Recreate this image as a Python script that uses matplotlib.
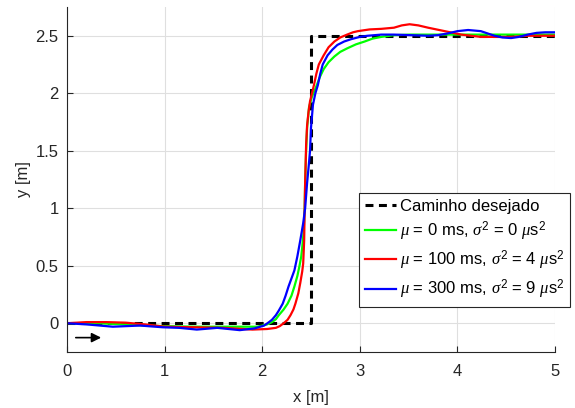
import matplotlib
matplotlib.use("Agg")
import matplotlib.pyplot as plt

# Desired path
path_x = [0, 2.5, 2.5, 5]
path_y = [0, 0, 2.5, 2.5]

# mu = 0 ms (green)
g_x = [0, 0.3, 0.6, 0.8, 1.0, 1.3, 1.6, 1.95, 2.05, 2.10, 2.14, 2.17, 2.22, 2.26, 2.30, 2.33, 2.36,
       2.38, 2.40, 2.41, 2.425, 2.435, 2.44, 2.45, 2.46, 2.48, 2.51, 2.55, 2.59, 2.63, 2.68, 2.74,
       2.80, 2.87, 2.96, 3.05, 3.13, 3.22, 3.35, 3.52, 3.8, 4.2, 4.6, 5.0]
g_y = [0, 0, -0.01, -0.02, -0.025, -0.03, -0.03, -0.03, -0.01, 0.01, 0.035, 0.07, 0.12, 0.17, 0.24, 0.32, 0.41,
       0.49, 0.58, 0.66, 0.8, 1.0, 1.22, 1.5, 1.7, 1.88, 1.97, 2.05, 2.14, 2.21, 2.27, 2.32,
       2.36, 2.39, 2.425, 2.45, 2.475, 2.49, 2.505, 2.51, 2.51, 2.51, 2.51, 2.51]

# mu = 100 ms (red)
r_x = [0, 0.2, 0.4, 0.6, 0.8, 1.0, 1.3, 1.6, 1.9, 2.05, 2.14, 2.18, 2.22, 2.26, 2.29, 2.32, 2.34, 2.37,
       2.39, 2.41, 2.42, 2.43, 2.435, 2.44, 2.45, 2.46, 2.475, 2.49, 2.51, 2.53, 2.555, 2.58, 2.63,
       2.68, 2.74, 2.80, 2.87, 2.93, 2.98, 3.10, 3.22, 3.35, 3.43, 3.51, 3.60, 3.70, 3.87, 4.04,
       4.24, 4.38, 4.55, 4.72, 5.0]
r_y = [0, 0.01, 0.01, 0.005, -0.01, -0.03, -0.035, -0.04, -0.055, -0.05, -0.04, -0.025, 0.0, 0.03, 0.07, 0.12, 0.17, 0.26,
       0.35, 0.45, 0.52, 0.72, 1.0, 1.22, 1.55, 1.72, 1.84, 1.93, 2.0, 2.07, 2.17, 2.25, 2.33,
       2.40, 2.45, 2.485, 2.51, 2.53, 2.54, 2.555, 2.56, 2.57, 2.59, 2.60, 2.59, 2.57, 2.54, 2.51,
       2.49, 2.49, 2.49, 2.50, 2.50]

# mu = 300 ms (blue)
b_x = [0, 0.2, 0.47, 0.75, 0.98, 1.15, 1.33, 1.54, 1.77, 1.92, 2.02, 2.07, 2.10, 2.14, 2.17, 2.21, 2.24,
       2.27, 2.30, 2.33, 2.36, 2.39, 2.42, 2.44, 2.46, 2.48, 2.49, 2.50, 2.51, 2.52, 2.545, 2.57,
       2.595, 2.62, 2.67, 2.72, 2.77, 2.84, 2.91, 3.0, 3.08, 3.22, 3.35, 3.70, 3.80, 3.90, 4.0,
       4.11, 4.24, 4.31, 4.38, 4.46, 4.55, 4.63, 4.72, 4.81, 4.90, 5.0]
b_y = [0, -0.01, -0.03, -0.02, -0.035, -0.04, -0.055, -0.04, -0.06, -0.045, -0.02, 0.01, 0.03, 0.07, 0.11, 0.17, 0.24,
       0.32, 0.39, 0.46, 0.58, 0.72, 0.87, 1.0, 1.22, 1.4, 1.5, 1.7, 1.8, 1.9, 2.0, 2.07,
       2.17, 2.25, 2.33, 2.38, 2.42, 2.45, 2.47, 2.49, 2.50, 2.51, 2.51, 2.50, 2.505, 2.52, 2.54,
       2.55, 2.54, 2.52, 2.50, 2.485, 2.48, 2.49, 2.51, 2.525, 2.53, 2.53]

x_ticks = [0, 1, 2, 3, 4, 5]
y_ticks = [0, 0.5, 1, 1.5, 2, 2.5]
y_tick_labels = ["0", "0.5", "1", "1.5", "2", "2.5"]

labels = ["Caminho desejado",
          r"$\mu$ = 0 ms, $\sigma^2$ = 0 $\mu$s$^2$",
          r"$\mu$ = 100 ms, $\sigma^2$ = 4 $\mu$s$^2$",
          r"$\mu$ = 300 ms, $\sigma^2$ = 9 $\mu$s$^2$"]

plt.rcParams['font.family'] = ['Liberation Sans', 'DejaVu Sans']
plt.rcParams['mathtext.fontset'] = 'custom'
plt.rcParams['mathtext.it'] = 'Liberation Serif:italic'
plt.rcParams['mathtext.rm'] = 'Liberation Sans'

fig = plt.figure(figsize=(5.75, 4.08), dpi=100)
ax = fig.add_axes([67/575, 1 - 352/408, (555-67)/575, (352-7)/408])

ax.plot(path_x, path_y, color='black', linestyle=(0, (2.6, 1.8)), linewidth=2.2, label=labels[0])
ax.plot(g_x, g_y, color='#00ff00', linewidth=1.6, label=labels[1])
ax.plot(r_x, r_y, color='#ff0000', linewidth=1.6, label=labels[2])
ax.plot(b_x, b_y, color='#0000ff', linewidth=1.6, label=labels[3])

ax.annotate('', xy=(0.35, -0.125), xytext=(0.09, -0.125),
            arrowprops=dict(arrowstyle='-|>', color='black', lw=1.2,
                            mutation_scale=14, shrinkA=0, shrinkB=0))

ax.set_xlim(0, 5)
ax.set_ylim(-0.25, 2.75)
ax.set_xticks(x_ticks)
ax.set_yticks(y_ticks)
ax.set_yticklabels(y_tick_labels)
ax.grid(True, color='#dfdfdf', linewidth=0.8)
ax.set_axisbelow(True)
for s in ['top', 'right']:
    ax.spines[s].set_visible(False)
for s in ['left', 'bottom']:
    ax.spines[s].set_color('#262626')
    ax.spines[s].set_linewidth(0.8)
ax.tick_params(direction='in', length=4, width=0.8, colors='#262626',
               labelsize=12, labelcolor='#262626')
ax.tick_params(axis='x', pad=8.5)
ax.tick_params(axis='y', pad=6)
ax.set_xlabel('x [m]', fontsize=12, color='#262626', labelpad=8)
ax.set_ylabel('y [m]', fontsize=12, color='#262626', labelpad=3)

leg = ax.legend(loc='upper left', bbox_to_anchor=(359/575, 1 - 193/408),
                bbox_transform=fig.transFigure, fontsize=12, frameon=True,
                fancybox=False, edgecolor='#262626', framealpha=1,
                handlelength=1.85, handletextpad=0.25, labelspacing=0.35,
                borderpad=0.35, borderaxespad=0)
leg.get_frame().set_linewidth(0.8)

fig.savefig('out.png', dpi=100)
